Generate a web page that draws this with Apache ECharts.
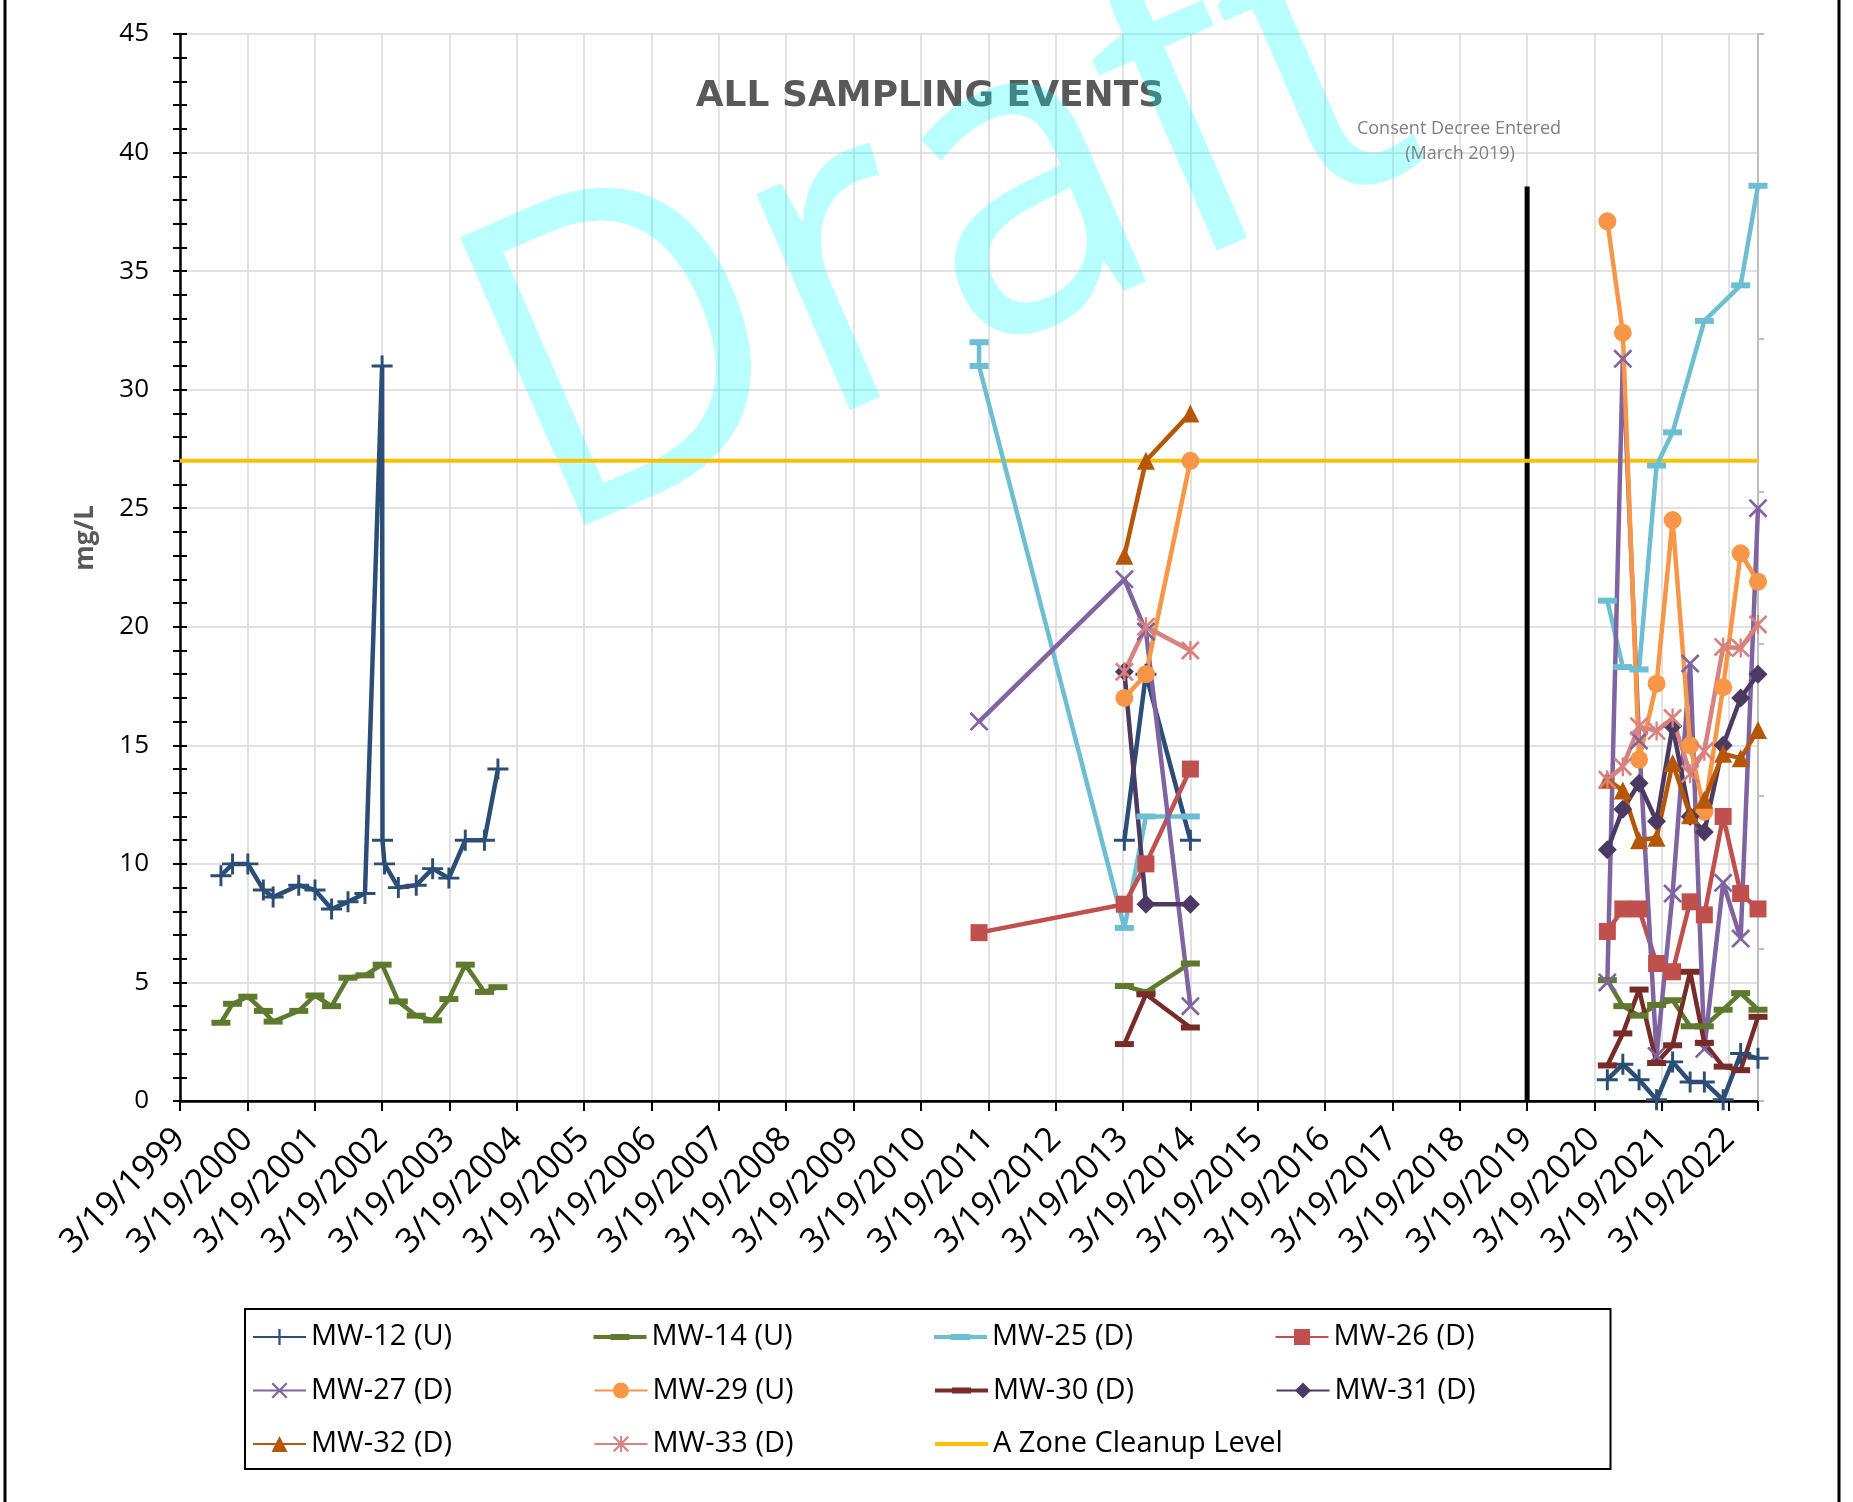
<!DOCTYPE html>
<html>
<head>
<meta charset="utf-8">
<script src="https://cdn.jsdelivr.net/npm/echarts/dist/echarts.min.js"></script>
<style>
  html, body { margin: 0; padding: 0; background: #fff; }
  #chart { width: 1853px; height: 1502px; }
</style>
</head>
<body>
<div id="chart"></div>
<script>
// values (mg/L)
var axisStart = '1999-03-19';
var axisEnd = '2022-08-22';
var cleanupLevel = 27;
var decreeDate = '2019-03-19';
var decreeHeight = 6; // on the hidden 0-7 secondary axis

var earlyDates = ['1999-10-27', '1999-12-29', '2000-03-21', '2000-06-13', '2000-08-05', '2000-12-22',
    '2001-03-20', '2001-06-18', '2001-09-15', '2001-12-16', '2002-03-19', '2002-06-15', '2002-09-20',
    '2002-12-18', '2003-03-16', '2003-06-13', '2003-09-25', '2003-12-07'];
var mw12EarlyDates = ['1999-10-27', '1999-12-29', '2000-03-21', '2000-06-13', '2000-08-05', '2000-12-22',
    '2001-03-20', '2001-06-18', '2001-09-15', '2001-12-16', '2002-03-19', '2002-03-21', '2002-04-01',
    '2002-06-15', '2002-09-20', '2002-12-18', '2003-03-16', '2003-06-13', '2003-09-25', '2003-12-07'];
var midDates = ['2011-01-28', '2013-03-26', '2013-07-21', '2014-03-19'];
var mw25MidDates = ['2011-01-28', '2011-01-28', '2013-03-26', '2013-07-21', '2014-03-19'];
var lateDates = ['2020-05-27', '2020-08-19', '2020-11-15', '2021-02-18', '2021-05-16', '2021-08-19',
    '2021-11-04', '2022-02-14', '2022-05-20', '2022-08-22'];

var mw12Early = [9.5, 10, 10, 8.9, 8.6, 9.1, 8.9, 8.1, 8.4, 8.75, 31, 11, 10, 9.0, 9.1, 9.8, 9.4, 11, 11, 14];
var mw12Mid = [null, 11, 18, 11];
var mw12Late = [0.9, 1.55, 0.9, 0.05, 1.65, 0.8, 0.8, 0.05, 2.0, 1.8];

var mw14Early = [3.3, 4.1, 4.4, 3.8, 3.35, 3.8, 4.45, 4.0, 5.2, 5.3, 5.75, 4.2, 3.6, 3.4, 4.3, 5.75, 4.6, 4.8];
var mw14Mid = [null, 4.85, 4.6, 5.8];
var mw14Late = [5.1, 4.0, 3.6, 4.05, 4.25, 3.15, 3.15, 3.85, 4.55, 3.85];

var mw25Mid = [32, 31, 7.3, 12, 12];
var mw25Late = [21.1, 18.3, 18.2, 26.8, 28.2, null, 32.9, null, 34.4, 38.6];

var mw26Mid = [7.1, 8.3, 10, 14];
var mw26Late = [7.15, 8.1, 8.1, 5.8, 5.45, 8.4, 7.85, 12.0, 8.75, 8.1];

var mw27Mid = [16, 22, 19.8, 4];
var mw27Late = [5.0, 31.3, 15.2, 1.9, 8.75, 18.45, 2.2, 9.2, 6.85, 25.0];

var mw29Mid = [null, 17, 18, 27];
var mw29Late = [37.1, 32.4, 14.4, 17.6, 24.5, 15.0, 12.2, 17.45, 23.1, 21.9];

var mw30Mid = [null, 2.4, 4.5, 3.1];
var mw30Late = [1.5, 2.85, 4.7, 1.6, 2.35, 5.45, 2.45, 1.45, 1.3, 3.55];

var mw31Mid = [null, 18.1, 8.3, 8.3];
var mw31Late = [10.6, 12.3, 13.4, 11.8, 15.8, 12.0, 11.35, 15.0, 17.0, 18.0];

var mw32Mid = [null, 23, 27, 29];
var mw32Late = [13.55, 13.1, 11.0, 11.1, 14.25, 12.05, 12.7, 14.65, 14.45, 15.65];

var mw33Mid = [null, 18.1, 20, 19];
var mw33Late = [13.55, 14.1, 15.8, 15.6, 16.15, 13.8, 14.75, 19.15, 19.1, 20.1];

// x axis is "years since 3/19/1999" so the yearly ticks land on 3/19
function yearsFrom(d) {
    var p = d.split('-');
    var t0 = Date.UTC(1999, 2, 19);
    return (Date.UTC(+p[0], +p[1] - 1, +p[2]) - t0) / (365.2425 * 86400000);
}

function points(dates, values) {
    var out = [];
    for (var i = 0; i < values.length; i++) {
        if (values[i] != null) out.push([yearsFrom(dates[i]), values[i]]);
    }
    return out;
}

// gaps between sampling campaigns are not joined
function joinSegments(list) {
    var out = [];
    list.forEach(function (seg) {
        if (!seg.length) return;
        if (out.length) out.push(['-', '-']);
        out = out.concat(seg);
    });
    return out;
}

var plusPath = 'path://M-1.4,-10L1.4,-10L1.4,10L-1.4,10Z M-10,-1.4L10,-1.4L10,1.4L-10,1.4Z';
var crossPath = 'path://M-10,-8L-8,-10L10,8L8,10Z M10,-8L-8,10L-10,8L8,-10Z';
var starPath = 'path://M-10,-8L-8,-10L10,8L8,10Z M10,-8L-8,10L-10,8L8,-10Z M-1.2,-10L1.2,-10L1.2,10L-1.2,10Z';
var dashPath = 'path://M-9.5,-3L9.5,-3L9.5,3L-9.5,3Z';
// legend icon for dash markers: line with the dash in the middle
var dashLegendIcon = 'path://M0,8L53,8L53,12L0,12Z M17,7L36,7L36,13L17,13Z';

var wells = [
    { name: 'MW-12 (U)', color: '#2C4D75', symbol: plusPath, size: 21,
      data: joinSegments([points(mw12EarlyDates, mw12Early), points(midDates, mw12Mid), points(lateDates, mw12Late)]) },
    { name: 'MW-14 (U)', color: '#5F7A2F', symbol: dashPath, size: 19, dash: true,
      data: joinSegments([points(earlyDates, mw14Early), points(midDates, mw14Mid), points(lateDates, mw14Late)]) },
    { name: 'MW-25 (D)', color: '#6DBED3', symbol: dashPath, size: 19, dash: true,
      data: joinSegments([points(mw25MidDates, mw25Mid), points(lateDates, mw25Late)]) },
    { name: 'MW-26 (D)', color: '#C0504D', symbol: 'rect', size: 17,
      data: joinSegments([points(midDates, mw26Mid), points(lateDates, mw26Late)]) },
    { name: 'MW-27 (D)', color: '#8064A2', symbol: crossPath, size: 19,
      data: joinSegments([points(midDates, mw27Mid), points(lateDates, mw27Late)]) },
    { name: 'MW-29 (U)', color: '#F79646', symbol: 'circle', size: 18,
      data: joinSegments([points(midDates, mw29Mid), points(lateDates, mw29Late)]) },
    { name: 'MW-30 (D)', color: '#772C2A', symbol: dashPath, size: 19, dash: true,
      data: joinSegments([points(midDates, mw30Mid), points(lateDates, mw30Late)]) },
    { name: 'MW-31 (D)', color: '#4B3B63', symbol: 'diamond', size: 19,
      data: joinSegments([points(midDates, mw31Mid), points(lateDates, mw31Late)]) },
    { name: 'MW-32 (D)', color: '#B65708', symbol: 'triangle', size: 18,
      data: joinSegments([points(midDates, mw32Mid), points(lateDates, mw32Late)]) },
    { name: 'MW-33 (D)', color: '#D7827E', symbol: starPath, size: 19,
      data: joinSegments([points(midDates, mw33Mid), points(lateDates, mw33Late)]) }
];

var xMax = yearsFrom(axisEnd);
var labelFont = 'Open Sans';

var series = wells.map(function (w) {
    return {
        name: w.name,
        type: 'line',
        data: w.data,
        symbol: w.symbol,
        symbolSize: w.size,
        symbolKeepAspect: true,
        showAllSymbol: true,
        clip: false,
        color: w.color,
        lineStyle: { width: 4.5, color: w.color },
        itemStyle: { color: w.color, borderWidth: 0 },
        z: 3
    };
});

series.unshift({
    name: 'A Zone Cleanup Level',
    type: 'line',
    data: [[yearsFrom(axisStart), cleanupLevel], [xMax, cleanupLevel]],
    symbol: 'none',
    color: '#FFC000',
    lineStyle: { width: 4, color: '#FFC000' },
    z: 2
});

series.unshift({
    name: 'decree',
    type: 'line',
    yAxisIndex: 2,
    data: [[yearsFrom(decreeDate), 0], [yearsFrom(decreeDate), decreeHeight]],
    symbol: 'none',
    lineStyle: { width: 5, color: '#000' },
    z: 2
});

var legendNames = wells.map(function (w) {
    return w.dash ? { name: w.name, icon: dashLegendIcon } : w.name;
});
legendNames.push({ name: 'A Zone Cleanup Level', icon: 'path://M0,0L53,0L53,4L0,4Z' });

var chart = echarts.init(document.getElementById('chart'));
chart.setOption({
    animation: false,
    backgroundColor: '#fff',
    grid: { left: 180, top: 34, width: 1578, height: 1067, outerBoundsMode: 'none' },
    xAxis: [{
        type: 'value',
        position: 'bottom',
        min: 0,
        max: xMax,
        interval: 1,
        axisLine: { lineStyle: { color: '#000', width: 2.5 } },
        axisTick: { length: 10, lineStyle: { color: '#000', width: 2 } },
        axisLabel: {
            rotate: 45,
            margin: 33,
            fontSize: 34,
            fontFamily: labelFont,
            color: '#000',
            formatter: function (v) {
                return Math.abs(v - Math.round(v)) < 1e-6 ? '3/19/' + (1999 + Math.round(v)) : '';
            }
        },
        splitLine: { show: true, lineStyle: { color: '#D9D9D9', width: 1.5 } }
    }, {
        type: 'value',
        position: 'top',
        min: 0,
        max: xMax,
        interval: 1,
        axisLine: { lineStyle: { color: '#000', width: 2 } },
        axisTick: { show: false },
        axisLabel: { show: false },
        splitLine: { show: false }
    }],
    yAxis: [{
        type: 'value',
        position: 'left',
        min: 0,
        max: 45,
        interval: 5,
        axisLine: { show: true, lineStyle: { color: '#000', width: 2.5 } },
        axisTick: { show: true, length: 7, lineStyle: { color: '#000', width: 2 } },
        minorTick: { show: true, splitNumber: 5, length: 7, lineStyle: { color: '#000', width: 2 } },
        axisLabel: { margin: 31, fontSize: 26, fontFamily: labelFont, color: '#000' },
        splitLine: { show: true, lineStyle: { color: '#D9D9D9', width: 1.5 } }
    }, {
        type: 'value',
        position: 'left',
        min: 0,
        max: 45,
        interval: 5,
        axisLine: { show: false },
        axisTick: { show: true, inside: true, length: 7, lineStyle: { color: '#000', width: 2 } },
        minorTick: { show: true, splitNumber: 5, length: 7, lineStyle: { color: '#000', width: 2 } },
        axisLabel: { show: false },
        splitLine: { show: false }
    }, {
        type: 'value',
        position: 'right',
        min: 0,
        max: 7,
        interval: 1,
        axisLine: { show: true, lineStyle: { color: '#BFBFBF', width: 2 } },
        axisTick: { show: true, length: 6, lineStyle: { color: '#BFBFBF', width: 2 } },
        axisLabel: { show: false },
        splitLine: { show: false }
    }],
    legend: {
        data: legendNames,
        left: 245,
        top: 1309,
        width: 1400,
        padding: [8, 7, 5, 7],
        itemGap: 13.5,
        itemWidth: 53,
        itemHeight: 20,
        borderColor: '#000',
        borderWidth: 2,
        textStyle: { fontSize: 29, fontFamily: labelFont, color: '#000', width: 269, lineHeight: 40 }
    },
    graphic: [
        { type: 'line', shape: { x1: 5, y1: 0, x2: 5, y2: 1502 }, style: { stroke: '#000', lineWidth: 3 }, z: 1 },
        { type: 'line', shape: { x1: 1839, y1: 0, x2: 1839, y2: 1502 }, style: { stroke: '#000', lineWidth: 3 }, z: 1 },
        {
            type: 'text', x: 930, y: 97, z: 1,
            style: { text: 'ALL SAMPLING EVENTS', fill: '#595959', fontSize: 36, fontWeight: 'bold',
                     fontFamily: 'DejaVu Sans', textAlign: 'center', textVerticalAlign: 'middle' }
        },
        {
            type: 'text', x: 499, y: 426, z: 1.5, rotation: 23.5 * Math.PI / 180, scaleX: 0.92,
            style: { text: 'Draft', fill: 'rgba(0,255,255,0.27)', fontSize: 440,
                     fontFamily: 'Open Sans', textAlign: 'left', textVerticalAlign: 'middle' }
        },
        {
            type: 'text', x: 86, y: 538, z: 3, rotation: Math.PI / 2,
            style: { text: 'mg/L', fill: '#595959', fontSize: 26, fontWeight: 'bold',
                     fontFamily: labelFont, textAlign: 'center', textVerticalAlign: 'middle' }
        },
        {
            type: 'text', x: 1459, y: 129, z: 3,
            style: { text: 'Consent Decree Entered', fill: '#808080', fontSize: 18,
                     fontFamily: labelFont, textAlign: 'center', textVerticalAlign: 'middle' }
        },
        {
            type: 'text', x: 1460, y: 154, z: 3,
            style: { text: '(March 2019)', fill: '#808080', fontSize: 18,
                     fontFamily: labelFont, textAlign: 'center', textVerticalAlign: 'middle' }
        }
    ],
    series: series
});
</script>
</body>
</html>
